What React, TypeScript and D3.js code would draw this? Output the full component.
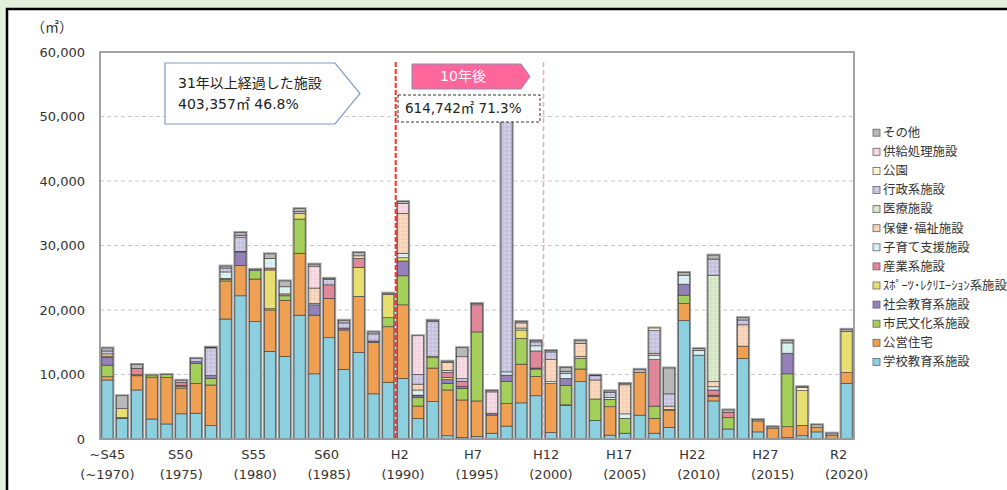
import { useEffect, useRef } from 'react'
import * as d3 from 'd3'

// 年度（～1970 は S45 以前の合計）
const years = [
  1970, 1971, 1972, 1973, 1974, 1975, 1976, 1977, 1978, 1979,
  1980, 1981, 1982, 1983, 1984, 1985, 1986, 1987, 1988, 1989,
  1990, 1991, 1992, 1993, 1994, 1995, 1996, 1997, 1998, 1999,
  2000, 2001, 2002, 2003, 2004, 2005, 2006, 2007, 2008, 2009,
  2010, 2011, 2012, 2013, 2014, 2015, 2016, 2017, 2018, 2019, 2020,
]

// 延床面積（㎡）
const school = [
  9150, 3200, 7600, 3100, 2330, 3900, 4000, 2070, 18600, 22200,
  18200, 13600, 12800, 19200, 10100, 15700, 10800, 13400, 7000, 8800,
  9400, 3200, 5800, 500, 200, 400, 900, 2000, 5600, 6700,
  1000, 5200, 8900, 2900, 600, 900, 3700, 900, 1800, 18350,
  13000, 5900, 1550, 12500, 1100, 100, 200, 500, 1100, 0, 8600,
]
const housing = [
  500, 0, 2200, 6500, 7200, 4000, 4600, 6300, 5900, 4700,
  6600, 6400, 8700, 9600, 9100, 6100, 6100, 8700, 8000, 8600,
  11400, 1900, 5200, 7100, 5850, 5500, 2800, 3500, 6000, 3000,
  7600, 100, 1950, 0, 4400, 0, 6600, 2300, 2600, 2650,
  0, 700, 0, 1900, 1700, 1600, 1700, 1600, 650, 600, 1700,
]
const culture = [
  1800, 0, 150, 300, 450, 300, 3100, 1000, 200, 0,
  1300, 200, 700, 5300, 0, 0, 0, 0, 0, 1400,
  4500, 1300, 1600, 1000, 1800, 10700, 0, 3400, 4000, 1150,
  0, 3000, 1650, 3300, 1150, 2300, 0, 1900, 200, 1300,
  0, 0, 1750, 0, 0, 0, 8200, 0, 0, 0, 0,
]
const socialEdu = [
  1200, 100, 0, 0, 0, 100, 300, 450, 0, 2100,
  0, 0, 0, 0, 1600, 0, 300, 0, 200, 0,
  2300, 300, 0, 600, 300, 0, 300, 1000, 0, 150,
  0, 1100, 0, 0, 0, 0, 0, 0, 0, 1700,
  0, 200, 0, 0, 0, 0, 3200, 0, 0, 0, 0,
]
const sports = [
  200, 1400, 0, 0, 0, 0, 0, 0, 0, 100,
  0, 6000, 0, 900, 0, 0, 0, 4500, 0, 3600,
  500, 100, 200, 350, 0, 0, 0, 0, 1300, 0,
  0, 0, 300, 0, 0, 0, 0, 0, 0, 0,
  0, 0, 0, 0, 0, 0, 0, 5400, 0, 0, 6400,
]
const industry = [
  0, 0, 1000, 0, 0, 500, 0, 0, 200, 0,
  0, 300, 300, 0, 0, 2100, 0, 1400, 0, 0,
  0, 0, 0, 800, 800, 4200, 0, 0, 0, 2650,
  0, 0, 0, 0, 0, 0, 0, 7200, 0, 0,
  0, 800, 800, 0, 0, 0, 0, 0, 0, 0, 0,
]
const childcare = [
  0, 0, 0, 0, 0, 0, 0, 0, 1000, 0,
  0, 1500, 1100, 0, 200, 0, 0, 0, 0, 0,
  700, 800, 0, 300, 0, 0, 0, 500, 300, 800,
  300, 800, 0, 0, 300, 700, 0, 700, 0, 1400,
  700, 500, 0, 0, 0, 0, 1600, 0, 0, 0, 0,
]
const welfare = [
  350, 0, 0, 0, 0, 0, 0, 0, 0, 0,
  0, 0, 0, 0, 2400, 0, 0, 400, 0, 0,
  6200, 900, 0, 1200, 0, 0, 0, 0, 800, 0,
  3400, 0, 2000, 2950, 0, 4500, 0, 300, 500, 0,
  0, 800, 0, 3300, 0, 0, 0, 0, 0, 0, 0,
]
const medical = [
  0, 0, 0, 0, 0, 0, 0, 0, 0, 0,
  0, 0, 0, 0, 0, 0, 0, 0, 0, 0,
  0, 0, 0, 0, 0, 0, 0, 0, 0, 0,
  0, 0, 0, 0, 0, 0, 0, 0, 0, 0,
  0, 16500, 0, 0, 0, 0, 0, 0, 0, 0, 0,
]
const admin = [
  450, 0, 0, 0, 0, 300, 500, 4300, 600, 2200,
  0, 0, 0, 300, 0, 800, 800, 0, 1100, 0,
  0, 1500, 5400, 0, 400, 0, 0, 40600, 0, 600,
  1200, 300, 0, 650, 800, 0, 0, 3500, 1900, 0,
  0, 2500, 0, 750, 0, 0, 0, 0, 0, 0, 0,
]
const park = [
  0, 0, 0, 0, 0, 0, 0, 0, 0, 0,
  0, 0, 0, 0, 0, 0, 0, 0, 0, 0,
  0, 0, 0, 0, 0, 0, 0, 0, 0, 0,
  0, 0, 0, 0, 0, 0, 0, 400, 0, 0,
  0, 0, 0, 0, 0, 0, 0, 450, 0, 0, 0,
]
const supply = [
  0, 0, 0, 0, 0, 0, 0, 0, 0, 300,
  0, 0, 0, 0, 3400, 0, 0, 0, 0, 0,
  1500, 6000, 0, 0, 3400, 0, 3300, 0, 0, 0,
  0, 0, 0, 0, 0, 0, 0, 0, 0, 0,
  0, 0, 0, 0, 0, 0, 0, 0, 0, 0, 0,
]
const other = [
  450, 2000, 600, 0, 0, 0, 0, 100, 300, 400,
  200, 700, 900, 400, 300, 200, 400, 500, 300, 200,
  300, 0, 200, 200, 1400, 200, 200, 0, 200, 200,
  200, 600, 500, 100, 200, 200, 500, 0, 4000, 400,
  300, 600, 400, 350, 200, 200, 400, 150, 450, 300, 300,
]

// bottom → top stacking order
const seriesNames = [
  '学校教育系施設', '公営住宅', '市民文化系施設', '社会教育系施設',
  'ｽﾎﾟｰﾂ･ﾚｸﾘｴｰｼｮﾝ系施設', '産業系施設', '子育て支援施設', '保健･福祉施設',
  '医療施設', '行政系施設', '公園', '供給処理施設', 'その他',
]
const seriesValues = [
  school, housing, culture, socialEdu, sports, industry, childcare,
  welfare, medical, admin, park, supply, other,
]

const tickYears = [1970, 1975, 1980, 1985, 1990, 1995, 2000, 2005, 2010, 2015, 2020]
const eraLabels = ['~S45', 'S50', 'S55', 'S60', 'H2', 'H7', 'H12', 'H17', 'H22', 'H27', 'R2']
const adLabels = ['(~1970)', '(1975)', '(1980)', '(1985)', '(1990)', '(1995)', '(2000)', '(2005)', '(2010)', '(2015)', '(2020)']
const yTicks = [0, 10000, 20000, 30000, 40000, 50000, 60000]

// annotation texts
const over31Year = 1990
const tenYearsLater = 2000
const calloutLines = ['31年以上経過した施設', '403,357㎡ 46.8%']
const laterLabel = '10年後'
const laterValue = '614,742㎡ 71.3%'

const colors: Record<string, string> = {
  '学校教育系施設': '#8ccfdf',
  '公営住宅': '#f0a052',
  '市民文化系施設': '#a3cf5a',
  '社会教育系施設': '#9580b9',
  'ｽﾎﾟｰﾂ･ﾚｸﾘｴｰｼｮﾝ系施設': '#e9df70',
  '産業系施設': '#e0889a',
  '子育て支援施設': '#d8f0f0',
  '保健･福祉施設': '#f8d3b8',
  '医療施設': '#d6e8c6',
  '行政系施設': '#c9c4e0',
  '公園': '#fff2d2',
  '供給処理施設': '#f6d6e0',
  'その他': '#b8b8b8',
}
const dotted = new Set(['子育て支援施設', '保健･福祉施設', '医療施設', '行政系施設', '供給処理施設'])

export default function App() {
  const svgRef = useRef<SVGSVGElement>(null)

  useEffect(() => {
    if (!svgRef.current) return
    const width = 1007
    const height = 490
    const marginLeft = 100
    const plotRight = 854
    const plotTop = 52
    const plotBottom = 439
    const font = '"DejaVu Sans", "Noto Sans CJK JP", sans-serif'
    const jpFont = '"Noto Sans CJK JP", sans-serif'

    const svg = d3.select(svgRef.current)
    svg.selectAll('*').remove()
    svg.attr('viewBox', [0, 0, width, height])
      .style('font-family', font)

    // patterns for the speckled categories
    const defs = svg.append('defs')
    seriesNames.forEach((name, i) => {
      if (!dotted.has(name)) return
      const p = defs.append('pattern')
        .attr('id', `pat${i}`)
        .attr('patternUnits', 'userSpaceOnUse')
        .attr('width', 4)
        .attr('height', 4)
      p.append('rect').attr('width', 4).attr('height', 4).attr('fill', colors[name])
      p.append('circle').attr('cx', 1).attr('cy', 1).attr('r', 0.6).attr('fill', '#fff').attr('opacity', 0.9)
      p.append('circle').attr('cx', 3).attr('cy', 3).attr('r', 0.5).attr('fill', '#000').attr('opacity', 0.12)
    })
    const fillOf = (name: string) => dotted.has(name) ? `url(#pat${seriesNames.indexOf(name)})` : colors[name]

    // background + panel
    svg.append('rect').attr('width', width).attr('height', height).attr('fill', '#e2efda')
    svg.append('rect')
      .attr('x', 7).attr('y', 9).attr('width', width).attr('height', height)
      .attr('fill', '#fff').attr('stroke', '#000').attr('stroke-width', 2.5)

    // scales
    const x = d3.scaleBand<number>()
      .domain(years)
      .range([marginLeft, plotRight])
      .paddingInner(0.25)
      .paddingOuter(0.125)
    const y = d3.scaleLinear().domain([0, 60000]).range([plotBottom, plotTop])

    // grid
    svg.append('g')
      .selectAll('line')
      .data(yTicks.filter(d => d > 0 && d < 60000))
      .join('line')
      .attr('x1', marginLeft).attr('x2', plotRight)
      .attr('y1', d => y(d)).attr('y2', d => y(d))
      .attr('stroke', '#c8c8c8').attr('stroke-dasharray', '4,3')

    // y axis labels
    svg.append('g')
      .selectAll('text')
      .data(yTicks)
      .join('text')
      .attr('x', 85)
      .attr('y', d => y(d))
      .attr('dy', '0.35em')
      .attr('text-anchor', 'end')
      .attr('font-size', 13)
      .attr('fill', '#333')
      .text(d => d3.format(',')(d))
    svg.append('text')
      .attr('x', 52).attr('y', 27).attr('dy', '0.35em')
      .attr('text-anchor', 'middle').attr('font-size', 14).attr('fill', '#333')
      .style('font-family', jpFont)
      .text('（㎡）')

    // stacked bars
    const rows = years.map((yr, i) => {
      const row: Record<string, number> = { year: yr }
      seriesNames.forEach((n, k) => { row[n] = seriesValues[k][i] })
      return row
    })
    const stacked = d3.stack<Record<string, number>>().keys(seriesNames)(rows)
    const totals = rows.map(r => d3.sum(seriesNames, n => r[n]))

    svg.append('g')
      .selectAll('rect')
      .data(years)
      .join('rect')
      .attr('x', d => x(d)! - 0.5)
      .attr('width', x.bandwidth() + 1)
      .attr('y', (d, i) => y(totals[i]) - 0.5)
      .attr('height', (d, i) => y(0) - y(totals[i]) + 0.5)
      .attr('fill', 'none')
      .attr('stroke', '#9a9a9a')
      .attr('stroke-width', 2)

    const barsG = svg.append('g')
    stacked.forEach(layer => {
      barsG.append('g')
        .selectAll('rect')
        .data(layer.filter(d => d[1] - d[0] > 0))
        .join('rect')
        .attr('x', d => x(d.data.year)!)
        .attr('width', x.bandwidth())
        .attr('y', d => y(d[1]))
        .attr('height', d => y(d[0]) - y(d[1]))
        .attr('fill', fillOf(layer.key))
        .attr('stroke', '#3a3a3a')
        .attr('stroke-width', 0.6)
    })

    // plot frame
    svg.append('rect')
      .attr('x', marginLeft).attr('y', plotTop)
      .attr('width', plotRight - marginLeft).attr('height', plotBottom - plotTop)
      .attr('fill', 'none').attr('stroke', '#9a9a9a').attr('stroke-width', 1.8)

    // x labels
    const xl = svg.append('g').attr('font-size', 13).attr('fill', '#333').attr('text-anchor', 'middle')
    tickYears.forEach((yr, i) => {
      const cx = x(yr)! + x.bandwidth() / 2
      xl.append('text').attr('x', cx - i * 0.8).attr('y', 454).attr('dy', '0.35em').text(eraLabels[i])
      xl.append('text').attr('x', cx).attr('y', 474).attr('dy', '0.35em').text(adLabels[i])
    })

    // boundary lines
    const gap = x.step() * x.paddingInner() / 2
    const redX = x(over31Year)! - gap
    const pinkX = x(tenYearsLater)! - gap
    svg.append('line')
      .attr('x1', redX).attr('x2', redX).attr('y1', 62).attr('y2', plotBottom)
      .attr('stroke', '#ff2a2a').attr('stroke-width', 2).attr('stroke-dasharray', '5,2')
    svg.append('line')
      .attr('x1', pinkX).attr('x2', pinkX).attr('y1', 62).attr('y2', plotBottom)
      .attr('stroke', '#f4a6b6').attr('stroke-width', 1.5).attr('stroke-dasharray', '5,3')

    // callout: 31年以上
    svg.append('path')
      .attr('d', 'M165,63 H335 L360,93.5 L335,124 H165 Z')
      .attr('fill', '#fff').attr('stroke', '#7f9cc6').attr('stroke-width', 1.2)
    calloutLines.forEach((t, i) => {
      svg.append('text')
        .attr('x', 178).attr('y', 83 + i * 21).attr('dy', '0.35em')
        .attr('font-size', 14).attr('fill', '#222')
        .text(t)
    })

    // 10年後
    svg.append('path')
      .attr('d', 'M412,64 H521 L530,76.5 L521,89 H412 Z')
      .attr('fill', '#ff6699').attr('stroke', '#8c8cb4').attr('stroke-width', 1)
    svg.append('text')
      .attr('x', 463).attr('y', 76.5).attr('dy', '0.35em')
      .attr('text-anchor', 'middle').attr('font-size', 14).attr('fill', '#fff')
      .text(laterLabel)
    svg.append('rect')
      .attr('x', 398).attr('y', 95).attr('width', 142).attr('height', 27)
      .attr('fill', '#fff').attr('stroke', '#333').attr('stroke-width', 1).attr('stroke-dasharray', '3,2')
    svg.append('text')
      .attr('x', 405).attr('y', 108.5).attr('dy', '0.35em')
      .attr('font-size', 13.5).attr('fill', '#222')
      .text(laterValue)

    // legend (top item = last stacked)
    const legend = svg.append('g').style('font-family', jpFont)
    const legendItems = [...seriesNames].reverse()
    legendItems.forEach((name, i) => {
      const ly = 132.7 + i * 19.1
      legend.append('rect')
        .attr('x', 873).attr('y', ly - 3.5).attr('width', 7).attr('height', 7)
        .attr('fill', fillOf(name)).attr('stroke', '#666').attr('stroke-width', 0.8)
      legend.append('text')
        .attr('x', 883).attr('y', ly).attr('dy', '0.35em')
        .attr('font-size', 12.4).attr('fill', '#333')
        .text(name)
    })

    return () => {
      svg.selectAll('*').remove()
    }
  }, [])

  return <svg ref={svgRef} width={1007} height={490} style={{ position: 'absolute', left: 0, top: 0 }} />
}
